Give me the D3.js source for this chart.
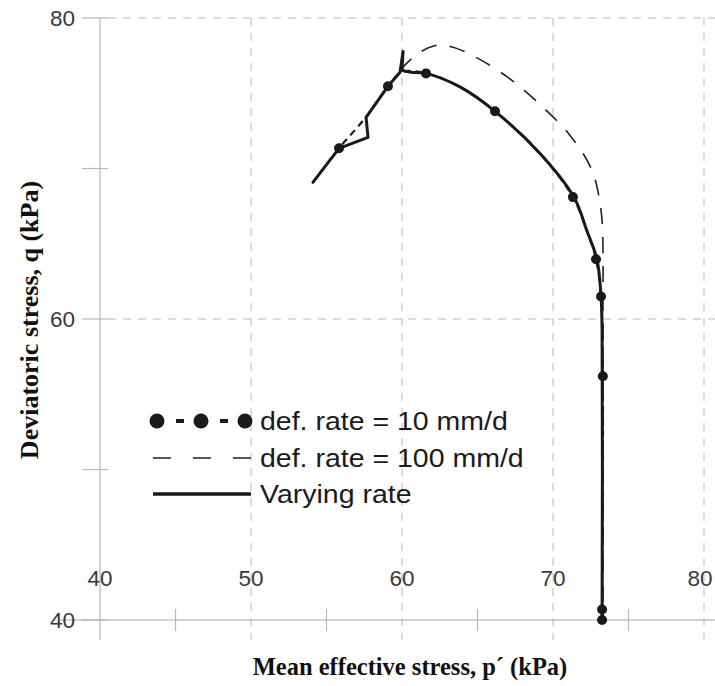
<!DOCTYPE html>
<html><head><meta charset="utf-8">
<script src="https://cdn.jsdelivr.net/npm/d3@7"></script>
<style>body{margin:0;background:#fff}svg{display:block}</style>
</head><body>
<svg id="chart" width="715" height="686"></svg>
<script>
// Data (p' kPa, q kPa)
const xTicks = [40, 50, 60, 70, 80];
const xMinorTicks = [45, 55, 65, 75];
const yTicks = [40, 60, 80];
const yMinorTicks = [50, 70];

const rate10Line = [[54.1,69.08],[55.83,71.34],[57.6,73.4],[59.07,75.46],[60.0,76.4],[61.59,76.32],[63.84,75.42],[66.16,73.8],[69.14,71.0],[71.32,68.1],[72.23,65.9],[72.85,63.97],[73.18,61.5],[73.3,56.2],[73.25,40.7],[73.25,40]];
const rate10Markers = [[55.83,71.34],[59.07,75.46],[61.59,76.32],[66.16,73.8],[71.32,68.1],[72.85,63.97],[73.18,61.5],[73.3,56.2],[73.25,40.7],[73.25,40]];
const rate100 = [[59.87,76.52],[60.73,77.38],[61.99,78.11],[63.18,78.11],[65.03,77.32],[67.28,75.86],[69.27,74.13],[71.13,72.2],[72.58,69.88],[73.18,67.22],[73.31,64.57],[73.31,61.25],[73.31,40]];
const varyingA = [[54.1,69.08],[55.83,71.34],[57.75,72.07],[57.62,73.4],[59.07,75.46],[59.87,76.39],[60.07,77.78],[60.0,76.52]];
const varyingB = [[60.0,76.52],[60.6,76.4],[61.59,76.32],[63.84,75.42],[66.16,73.8],[69.14,71.0],[71.39,68.09],[72.23,65.9],[72.91,63.97],[73.18,61.51],[73.25,59.26],[73.25,40]];

const legendLabels = ["def. rate = 10 mm/d", "def. rate = 100 mm/d", "Varying rate"];

const svg = d3.select("#chart");
const x = d3.scaleLinear().domain([40, 80]).range([100, 704]);
const y = d3.scaleLinear().domain([40, 80]).range([620, 18]);

const grid = "#b8b8b8";
const g = svg.append("g");

g.selectAll(".vg").data(xTicks.filter(d => d > 40)).join("line")
  .attr("x1", d => x(d)).attr("x2", d => x(d)).attr("y1", y(80)).attr("y2", 640)
  .attr("stroke", grid).attr("stroke-width", 1).attr("stroke-dasharray", "8,7");
g.selectAll(".hg").data(yTicks.filter(d => d > 40)).join("line")
  .attr("x1", 108).attr("x2", 715).attr("y1", d => y(d)).attr("y2", d => y(d))
  .attr("stroke", grid).attr("stroke-width", 1).attr("stroke-dasharray", "8,7");
g.append("line").attr("x1", x(40)).attr("x2", x(40)).attr("y1", y(80)).attr("y2", 640)
  .attr("stroke", grid).attr("stroke-width", 1.2);
g.append("line").attr("x1", 60).attr("x2", 715).attr("y1", y(40)).attr("y2", y(40))
  .attr("stroke", "#a8a8a8").attr("stroke-width", 1.2);
g.selectAll(".yt").data(yTicks.concat(yMinorTicks)).join("line")
  .attr("x1", 82).attr("x2", 108).attr("y1", d => y(d)).attr("y2", d => y(d))
  .attr("stroke", grid).attr("stroke-width", 1.2);
g.selectAll(".xt").data(xMinorTicks).join("line")
  .attr("x1", d => x(d)).attr("x2", d => x(d)).attr("y1", 609).attr("y2", 631)
  .attr("stroke", grid).attr("stroke-width", 1.2);

const tickFont = "Liberation Sans, Arial, sans-serif";
g.selectAll(".yl").data(yTicks).join("text")
  .attr("x", 75).attr("y", d => y(d)).attr("dy", "0.36em")
  .attr("text-anchor", "end").attr("font-family", tickFont).attr("font-size", 22.5)
  .attr("fill", "#3a3a3a").text(d => d);
g.selectAll(".xl").data(xTicks).join("text")
  .attr("x", d => Math.min(x(d), 700)).attr("y", 578).attr("dy", "0.36em")
  .attr("text-anchor", "middle").attr("font-family", tickFont).attr("font-size", 22.5)
  .attr("fill", "#3a3a3a").text(d => d);

svg.append("text").attr("x", 410).attr("y", 666).attr("dy", "0.35em")
  .attr("text-anchor", "middle").attr("font-family", "Liberation Serif, Times New Roman, serif")
  .attr("font-weight", "bold").attr("font-size", 24.5).attr("fill", "#111")
  .text("Mean effective stress, p\u00B4 (kPa)");
svg.append("text").attr("transform", "translate(29,320) rotate(-90)").attr("dy", "0.35em")
  .attr("text-anchor", "middle").attr("font-family", "Liberation Serif, Times New Roman, serif")
  .attr("font-weight", "bold").attr("font-size", 26).attr("fill", "#111")
  .text("Deviatoric stress, q (kPa)");

const line = d3.line().x(d => x(d[0])).y(d => y(d[1]));
const smooth = d3.line().x(d => x(d[0])).y(d => y(d[1])).curve(d3.curveCatmullRom.alpha(0.5));

svg.append("path").attr("d", smooth(rate100)).attr("fill", "none")
  .attr("stroke", "#222").attr("stroke-width", 1.6).attr("stroke-dasharray", "16,13");
svg.append("path").attr("d", smooth(rate10Line)).attr("fill", "none")
  .attr("stroke", "#1a1a1a").attr("stroke-width", 2.2).attr("stroke-dasharray", "7,5");
svg.append("path").attr("d", line(varyingA)).attr("fill", "none")
  .attr("stroke", "#1a1a1a").attr("stroke-width", 3).attr("stroke-linejoin", "round").attr("stroke-linecap", "round");
svg.append("path").attr("d", smooth(varyingB)).attr("fill", "none")
  .attr("stroke", "#1a1a1a").attr("stroke-width", 3).attr("stroke-linejoin", "round").attr("stroke-linecap", "round");
svg.selectAll(".m").data(rate10Markers).join("circle")
  .attr("cx", d => x(d[0])).attr("cy", d => y(d[1])).attr("r", 5).attr("fill", "#1a1a1a");

const lg = svg.append("g");
const rowY = [421, 458, 494];
const lxs = d3.scaleLinear().domain([0, 1]).range([157, 245]);
lg.selectAll(".lm").data([0, 0.5, 1]).join("circle")
  .attr("cx", d => lxs(d)).attr("cy", rowY[0]).attr("r", 7.5).attr("fill", "#1a1a1a");
lg.append("line").attr("x1", 157).attr("x2", 245).attr("y1", rowY[0]).attr("y2", rowY[0])
  .attr("stroke", "#1a1a1a").attr("stroke-width", 4).attr("stroke-dasharray", "0,19,8,36,8,100");
lg.append("line").attr("x1", 153).attr("x2", 251).attr("y1", rowY[1]).attr("y2", rowY[1])
  .attr("stroke", "#222").attr("stroke-width", 1.6).attr("stroke-dasharray", "18,22");
lg.append("line").attr("x1", 153).attr("x2", 251).attr("y1", rowY[2]).attr("y2", rowY[2])
  .attr("stroke", "#1a1a1a").attr("stroke-width", 3.5);
lg.selectAll(".lt").data(legendLabels).join("text")
  .attr("transform", (d, i) => `translate(260,${rowY[i]}) scale(1.14,1)`).attr("dy", "0.36em")
  .attr("font-family", tickFont).attr("font-size", 25).attr("fill", "#1a1a1a")
  .text(d => d);
</script>
</body></html>
